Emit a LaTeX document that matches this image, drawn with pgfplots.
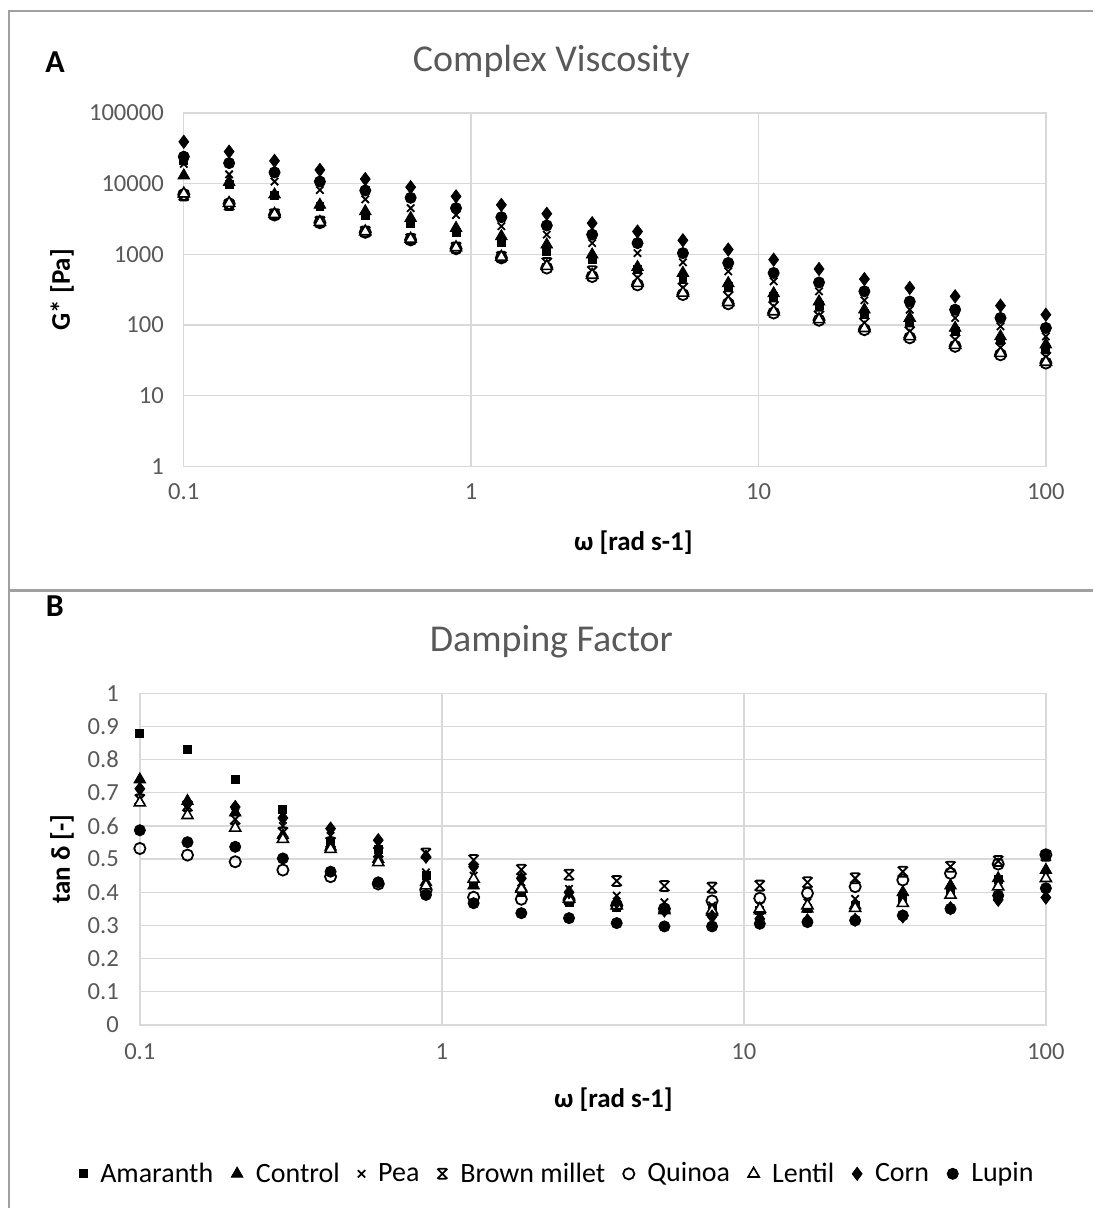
\documentclass[border=0pt]{standalone}
\usepackage{pgfplots}
\usepackage{pgfplotstable}
\pgfplotsset{compat=1.18}
\usepackage{fontspec}
\setmainfont{Carlito}
\definecolor{tickgray}{HTML}{595959}
\definecolor{gridgray}{HTML}{D9D9D9}
\definecolor{framegray}{HTML}{A0A0A0}

\pgfdeclareplotmark{bmstar}{%
  \pgfpathmoveto{\pgfqpoint{-\pgfplotmarksize}{-\pgfplotmarksize}}%
  \pgfpathlineto{\pgfqpoint{\pgfplotmarksize}{\pgfplotmarksize}}%
  \pgfpathmoveto{\pgfqpoint{-\pgfplotmarksize}{\pgfplotmarksize}}%
  \pgfpathlineto{\pgfqpoint{\pgfplotmarksize}{-\pgfplotmarksize}}%
  \pgfpathmoveto{\pgfqpoint{-0.75\pgfplotmarksize}{\pgfplotmarksize}}%
  \pgfpathlineto{\pgfqpoint{0.75\pgfplotmarksize}{\pgfplotmarksize}}%
  \pgfpathmoveto{\pgfqpoint{-0.75\pgfplotmarksize}{-\pgfplotmarksize}}%
  \pgfpathlineto{\pgfqpoint{0.75\pgfplotmarksize}{-\pgfplotmarksize}}%
  \pgfusepathqstroke}

\pgfplotstableread{
x am co pe bm qu le cn lu
0.1 21000 13000 19000 6800 7000 7200 39000 24000
0.1438 9800 10500 13500 5000 5200 5300 28300 19500
0.2069 6900 7000 10700 3700 3600 3700 21000 14400
0.2976 4750 5000 8100 2900 2800 2850 15600 10700
0.4281 3500 4050 6000 2100 2050 2100 11600 8000
0.6158 2700 3250 4500 1650 1600 1650 8900 6300
0.8859 2050 2350 3600 1250 1200 1250 6600 4500
1.274 1480 1800 2500 920 890 920 5000 3350
1.833 1100 1370 1900 755 640 680 3750 2560
2.637 860 990 1440 575 485 510 2760 1900
3.793 620 660 1040 465 370 390 2100 1440
5.456 465 545 770 335 270 285 1580 1040
7.848 350 390 575 255 200 210 1170 755
11.29 255 280 415 183 148 155 840 545
16.24 188 215 300 135 117 120 620 400
23.36 145 165 224 107 86 90 447 300
33.60 110 126 165 81 66 69 335 215
48.33 81 91 126 62 50 52 255 165
69.52 61 69 96 48 38 40 188 126
100 45 53 69 35 29 30 140 91
}\viscdata

\pgfplotstableread{
x am co pe bm qu le cn lu
0.1 0.88 0.74 0.70 0.68 0.532 0.67 0.712 0.587
0.1438 0.83 0.675 0.66 0.66 0.512 0.632 0.667 0.551
0.2069 0.74 0.64 0.64 0.62 0.492 0.594 0.657 0.537
0.2976 0.65 0.572 0.60 0.58 0.467 0.56 0.624 0.502
0.4281 0.55 0.537 0.57 0.55 0.447 0.53 0.592 0.462
0.6158 0.53 0.50 0.52 0.52 0.425 0.49 0.557 0.43
0.8859 0.45 0.43 0.46 0.517 0.405 0.42 0.507 0.392
1.274 0.43 0.42 0.45 0.497 0.385 0.44 0.477 0.367
1.833 0.40 0.414 0.43 0.468 0.379 0.41 0.442 0.337
2.637 0.37 0.39 0.41 0.453 0.375 0.38 0.40 0.322
3.793 0.355 0.37 0.39 0.434 0.36 0.36 0.37 0.307
5.456 0.35 0.35 0.37 0.419 0.35 0.345 0.345 0.297
7.848 0.35 0.34 0.36 0.414 0.374 0.345 0.327 0.297
11.29 0.345 0.345 0.36 0.42 0.382 0.35 0.32 0.305
16.24 0.35 0.35 0.37 0.43 0.397 0.36 0.315 0.31
23.36 0.36 0.36 0.38 0.442 0.417 0.352 0.317 0.315
33.60 0.38 0.40 0.39 0.462 0.437 0.367 0.327 0.33
48.33 0.40 0.42 0.41 0.477 0.457 0.392 0.352 0.35
69.52 0.44 0.442 0.43 0.494 0.485 0.417 0.377 0.39
100 0.512 0.467 0.45 0.51 0.513 0.442 0.384 0.412
}\dampdata

\pgfplotsset{
  sAm/.style={only marks, mark=square*, mark size=2bp, draw=black, fill=black},
  sCo/.style={only marks, mark=triangle*, mark size=3.4bp, draw=black, fill=black},
  sPe/.style={only marks, mark=x, mark size=2.6bp, draw=black, line width=0.9bp},
  sBm/.style={only marks, mark=bmstar, mark size=2.5bp, draw=black, line width=0.9bp},
  sQu/.style={only marks, mark=o, mark size=2.8bp, draw=black, line width=0.9bp, mark options={fill=white}},
  sLe/.style={only marks, mark=triangle*, mark size=3.2bp, draw=black, line width=0.8bp, mark options={fill=white}},
  sCn/.style={only marks, mark=diamond*, mark size=3.3bp, draw=black, fill=black},
  sLu/.style={only marks, mark=*, mark size=2.8bp, draw=black, fill=black},
}

\begin{document}
\begin{tikzpicture}
% page
\path (0,0) rectangle (547bp,-604.5bp);
% frame
\draw[framegray, line width=1.3bp] (547bp,-5.5bp) -- (4.5bp,-5.5bp) -- (4.5bp,-604.5bp);
\draw[framegray, line width=1.6bp] (4.5bp,-295.5bp) -- (547bp,-295.5bp);

% panel labels and titles
\node[font=\bfseries\fontsize{16bp}{18bp}\selectfont] at (27.5bp,-31bp) {A};
\node[font=\bfseries\fontsize{16bp}{18bp}\selectfont] at (27.5bp,-303.5bp) {B};
\node[font=\fontsize{19bp}{22bp}\selectfont, text=tickgray] at (276bp,-30.5bp) {Complex Viscosity};
\node[font=\fontsize{19bp}{22bp}\selectfont, text=tickgray] at (276bp,-321bp) {Damping Factor};

% axis titles
\node[font=\bfseries\fontsize{13.5bp}{16bp}\selectfont] at (317bp,-271.5bp) {ω [rad s-1]};
\node[font=\bfseries\fontsize{13.5bp}{16bp}\selectfont] at (307bp,-550.5bp) {ω [rad s-1]};
\node[font=\bfseries\fontsize{13.5bp}{16bp}\selectfont, rotate=90] at (31bp,-145bp) {G* [Pa]};
\node[font=\bfseries\fontsize{13.5bp}{16bp}\selectfont, rotate=90] at (31bp,-430bp) {tan δ [-]};

% ---------- A ----------
\begin{axis}[
  scale only axis,
  xmode=log, ymode=log,
  at={(92bp,-233.5bp)}, anchor=south west,
  width=431.5bp, height=177bp,
  axis line style={draw=gridgray, line width=0.7bp},
  major grid style={draw=gridgray, line width=0.7bp},
  xmajorgrids, ymajorgrids,
  major tick length=0pt, minor tick length=0pt,
  ticklabel style={font=\fontsize{12.3bp}{14bp}\selectfont, text=tickgray},
  clip=false,
  xmin=0.1, xmax=100,
  xtick={0.1,1,10,100},
  xticklabels={0.1,1,10,100},
  ymin=1, ymax=100000,
  ytick={1,10,100,1000,10000,100000},
  yticklabels={1,10,100,1000,10000,100000},
  xticklabel style={yshift=-5bp},
  yticklabel style={xshift=-6.5bp},
]
\addplot[sAm] table[x=x,y=am]{\viscdata};
\addplot[sCo] table[x=x,y=co]{\viscdata};
\addplot[sPe] table[x=x,y=pe]{\viscdata};
\addplot[sBm] table[x=x,y=bm]{\viscdata};
\addplot[sQu] table[x=x,y=qu]{\viscdata};
\addplot[sLe] table[x=x,y=le]{\viscdata};
\addplot[sCn] table[x=x,y=cn]{\viscdata};
\addplot[sLu] table[x=x,y=lu]{\viscdata};
\end{axis}

% ---------- B ----------
\begin{axis}[
  scale only axis,
  xmode=log,
  at={(70bp,-513bp)}, anchor=south west,
  width=453.5bp, height=166bp,
  axis line style={draw=gridgray, line width=0.7bp},
  major grid style={draw=gridgray, line width=0.7bp},
  xmajorgrids, ymajorgrids,
  major tick length=0pt, minor tick length=0pt,
  ticklabel style={font=\fontsize{12.3bp}{14bp}\selectfont, text=tickgray},
  clip=false,
  xmin=0.1, xmax=100,
  xtick={0.1,1,10,100},
  xticklabels={0.1,1,10,100},
  ymin=0, ymax=1,
  ytick={0,0.1,0.2,0.3,0.4,0.5,0.6,0.7,0.8,0.9,1},
  yticklabels={0,0.1,0.2,0.3,0.4,0.5,0.6,0.7,0.8,0.9,1},
  xticklabel style={yshift=-6bp},
  yticklabel style={xshift=-7bp},
  legend columns=-1,
  legend style={at={(axis description cs:0.462,-0.449)}, anchor=center,
    draw=none, fill=none, font=\fontsize{14bp}{16bp}\selectfont, text=black,
    /tikz/every odd column/.append style={column sep=4.5bp},
    /tikz/every even column/.append style={column sep=7bp}},
  legend cell align=left,
]
\addplot[sAm] table[x=x,y=am]{\dampdata}; \addlegendentry{Amaranth}
\addplot[sCo] table[x=x,y=co]{\dampdata}; \addlegendentry{Control}
\addplot[sPe] table[x=x,y=pe]{\dampdata}; \addlegendentry{Pea}
\addplot[sBm] table[x=x,y=bm]{\dampdata}; \addlegendentry{Brown millet}
\addplot[sQu] table[x=x,y=qu]{\dampdata}; \addlegendentry{Quinoa}
\addplot[sLe] table[x=x,y=le]{\dampdata}; \addlegendentry{Lentil}
\addplot[sCn] table[x=x,y=cn]{\dampdata}; \addlegendentry{Corn}
\addplot[sLu] table[x=x,y=lu]{\dampdata}; \addlegendentry{Lupin}
\end{axis}
\end{tikzpicture}
\end{document}
